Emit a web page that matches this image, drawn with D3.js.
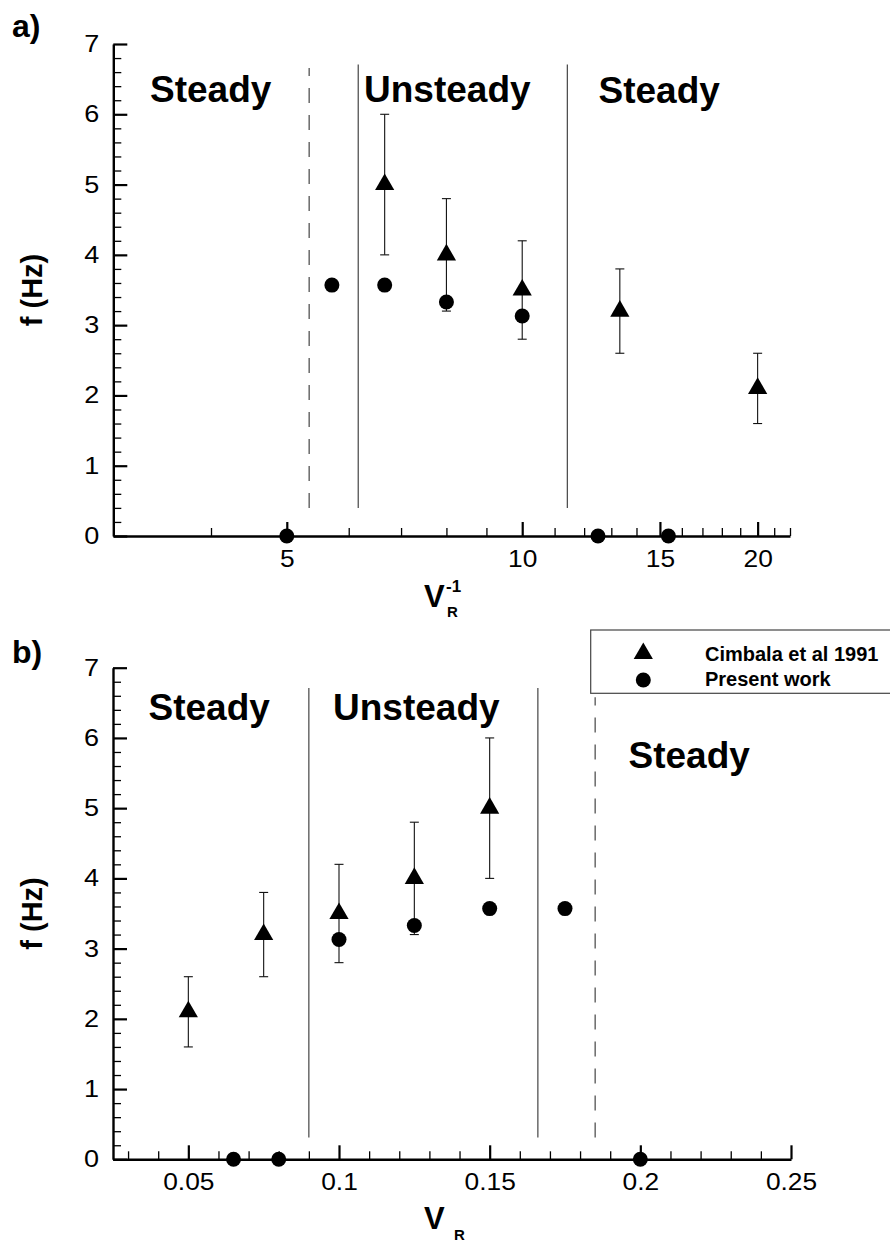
<!DOCTYPE html>
<html><head><meta charset="utf-8">
<script src="https://cdn.jsdelivr.net/npm/d3@7"></script>
<style>
html,body{margin:0;padding:0;background:#fff;}
svg{display:block;}
text{font-family:"Liberation Sans",Arial,Helvetica,sans-serif;fill:#000;}
</style></head>
<body>
<svg id="chart" width="890" height="1243"></svg>
<script>
// ---------- Data ----------
// Panel a : x = V_R^-1
const cimbalaInvVR = [20, 13.33, 10, 8, 6.67];
const presentInvVR = [15.38, 12.5, 10, 8, 6.67, 5.71, 5];
// Panel b : x = V_R
const cimbalaVR = [0.05, 0.075, 0.1, 0.125, 0.15];
const presentVR = [0.065, 0.08, 0.1, 0.125, 0.15, 0.175, 0.2];
// Frequencies (Hz)
const cimbalaF = [2.1, 3.2, 3.5, 4.0, 5.0];
const cimbalaErr = [0.5, 0.6, 0.7, 0.8, 1.0];
const presentF = [0, 0, 3.13, 3.33, 3.57, 3.57, 0];
// Regime boundaries
const boundsA = [5.34, 6.17, 11.42];
const boundsADashed = [true, false, false];
const boundsB = [0.09, 0.166, 0.185];
const boundsBDashed = [false, false, true];
// Ticks
const yMajorTicks = [0, 1, 2, 3, 4, 5, 6, 7];
const xMajorTicksA = [5, 10, 15, 20];
const xMinorTicksA = [4, 6, 7, 8, 9, 11, 12, 13, 14, 16, 17, 18, 19, 21, 22];
const xMajorTicksB = [0.05, 0.1, 0.15, 0.2, 0.25];
const xMinorTicksB = [0.03,0.04,0.06,0.07,0.08,0.09,0.11,0.12,0.13,0.14,0.16,0.17,0.18,0.19,0.21,0.22,0.23,0.24];
const xTickLabelsB = ["0.05", "0.1", "0.15", "0.2", "0.25"];
const legendLabels = ["Cimbala et al 1991", "Present work"];

const svg = d3.select("#chart");
svg.append("rect").attr("width", 890).attr("height", 1243).attr("fill", "#fff");

const triSym = d3.symbol().type(d3.symbolTriangle).size(160);
const cirSym = d3.symbol().type(d3.symbolCircle).size(177);

function widen(sel, f) {
  sel.each(function () {
    const w = this.getComputedTextLength();
    d3.select(this).attr("textLength", w * f).attr("lengthAdjust", "spacingAndGlyphs");
  });
}

function panel(cfg) {
  const g = svg.append("g");
  const x = cfg.x, y = cfg.y;
  const yMinor = d3.range(0, 7.0001, 0.2).map(v => +v.toFixed(1)).filter(v => Math.abs(v - Math.round(v)) > 1e-6);

  // regime lines
  cfg.bounds.forEach((b, i) => {
    const dashed = cfg.dashed[i];
    g.append("line")
      .attr("x1", x(b)).attr("x2", x(b))
      .attr("y1", y(cfg.lineLow)).attr("y2", y(dashed ? cfg.dashTop : 6.71))
      .attr("stroke", "#333").attr("stroke-width", 1.1)
      .attr("stroke-dasharray", dashed ? "15,12" : null);
  });

  // y axis
  const ax0 = x.range()[0];
  const yMaj = d3.axisLeft(y).tickValues(yMajorTicks).tickSize(-14).tickSizeOuter(0).tickPadding(14).tickFormat(d3.format("d"));
  const ya = g.append("g").attr("transform", `translate(${ax0},0)`).call(yMaj);
  ya.select(".domain").attr("stroke", "#000").attr("stroke-width", 2.4);
  ya.selectAll(".tick line").attr("stroke", "#000").attr("stroke-width", 2.2);
  ya.selectAll(".tick text").attr("font-size", 23.5).attr("fill", "#000")
    .style("font-family", '"Liberation Sans",Arial,sans-serif');
  widen(ya.selectAll(".tick text"), 1.15);
  const yMin = d3.axisLeft(y).tickValues(yMinor).tickSize(-8).tickSizeOuter(0).tickFormat("");
  const ym = g.append("g").attr("transform", `translate(${ax0},0)`).call(yMin);
  ym.select(".domain").remove();
  ym.selectAll(".tick line").attr("stroke", "#000").attr("stroke-width", 1.3);

  // x axis
  const ay0 = y.range()[0];
  const xMaj = d3.axisBottom(x).tickValues(cfg.xMajor).tickSize(-14).tickSizeOuter(0).tickPadding(14)
    .tickFormat((d, i) => cfg.xLabels[i]);
  const xa = g.append("g").attr("transform", `translate(0,${ay0})`).call(xMaj);
  xa.select(".domain").attr("stroke", "#000").attr("stroke-width", 2.6);
  xa.selectAll(".tick line").attr("stroke", "#000").attr("stroke-width", 2.2);
  xa.selectAll(".tick text").attr("font-size", 23.5).attr("fill", "#000")
    .style("font-family", '"Liberation Sans",Arial,sans-serif');
  widen(xa.selectAll(".tick text"), 1.12);
  const xMin = d3.axisBottom(x).tickValues(cfg.xMinor).tickSize(-8).tickSizeOuter(0).tickFormat("");
  const xm = g.append("g").attr("transform", `translate(0,${ay0})`).call(xMin);
  xm.select(".domain").remove();
  xm.selectAll(".tick line").attr("stroke", "#000").attr("stroke-width", 1.3);

  // error bars
  const eb = g.append("g").attr("stroke", "#111").attr("stroke-width", 1.1);
  cfg.cx.forEach((xv, i) => {
    const px = x(xv), lo = y(cimbalaF[i] - cimbalaErr[i]), hi = y(cimbalaF[i] + cimbalaErr[i]);
    eb.append("line").attr("x1", px).attr("x2", px).attr("y1", lo).attr("y2", hi);
    eb.append("line").attr("x1", px - 4.5).attr("x2", px + 4.5).attr("y1", lo).attr("y2", lo);
    eb.append("line").attr("x1", px - 4.5).attr("x2", px + 4.5).attr("y1", hi).attr("y2", hi);
  });

  // symbols
  g.selectAll(".tri").data(cfg.cx).join("path")
    .attr("d", triSym).attr("fill", "#000")
    .attr("transform", (d, i) => `translate(${x(d)},${y(cimbalaF[i])})`);
  g.selectAll(".cir").data(cfg.px).join("path")
    .attr("d", cirSym).attr("fill", "#000")
    .attr("transform", (d, i) => `translate(${x(d)},${y(presentF[i])})`);

  // region labels
  cfg.regions.forEach(r => {
    g.append("text").attr("x", r[0]).attr("y", r[1]).text(r[2])
      .attr("font-size", 37).attr("font-weight", "bold");
  });

  // panel letter
  g.append("text").attr("x", 12).attr("y", cfg.letterY).text(cfg.letter)
    .attr("font-size", 32).attr("font-weight", "bold");

  // y label
  const yc = (y.range()[0] + y.range()[1]) / 2;
  g.append("text").attr("transform", `translate(42,${yc}) rotate(-90)`)
    .attr("text-anchor", "middle").attr("font-size", 29).attr("font-weight", "bold")
    .text("f (Hz)");
  return g;
}

// ---------- Panel a ----------
const xA = d3.scaleLog().domain([3, 22]).range([113.3, 790]);
const yA = d3.scaleLinear().domain([0, 7]).range([536, 44]);
const gA = panel({
  x: xA, y: yA, xMajor: xMajorTicksA, xMinor: xMinorTicksA, xLabels: xMajorTicksA.map(String),
  bounds: boundsA, dashed: boundsADashed, lineLow: 0.4, dashTop: 6.66,
  cx: cimbalaInvVR, px: presentInvVR,
  regions: [[150, 101.5, "Steady"], [364, 101.5, "Unsteady"], [598.5, 102.5, "Steady"]],
  letter: "a)", letterY: 36.5
});
// x label a
gA.append("text").attr("x", 424).attr("y", 607).attr("font-weight", "bold").attr("font-size", 31).text("V");
gA.append("text").attr("x", 446).attr("y", 591.5).attr("font-weight", "bold").attr("font-size", 17).text("-1");
gA.append("text").attr("x", 447).attr("y", 616.5).attr("font-weight", "bold").attr("font-size", 15).text("R");

// ---------- Panel b ----------
const xB = d3.scaleLinear().domain([0.025, 0.25]).range([113, 791]);
const yB = d3.scaleLinear().domain([0, 7]).range([1159.3, 667.7]);
const gB = panel({
  x: xB, y: yB, xMajor: xMajorTicksB, xMinor: xMinorTicksB, xLabels: xTickLabelsB,
  bounds: boundsB, dashed: boundsBDashed, lineLow: 0.31, dashTop: 6.58,
  cx: cimbalaVR, px: presentVR,
  regions: [[148.5, 720, "Steady"], [333, 720, "Unsteady"], [628.5, 767.5, "Steady"]],
  letter: "b)", letterY: 662.5
});
gB.append("text").attr("x", 424).attr("y", 1229).attr("font-weight", "bold").attr("font-size", 31).text("V");
gB.append("text").attr("x", 454).attr("y", 1240).attr("font-weight", "bold").attr("font-size", 15).text("R");

// legend
const lg = svg.append("g");
lg.append("rect").attr("x", 590.7).attr("y", 630).attr("width", 320).attr("height", 63.3)
  .attr("fill", "#fff").attr("stroke", "#444").attr("stroke-width", 1.2);
lg.append("path").attr("d", triSym).attr("transform", "translate(643.3,653.5)");
lg.append("path").attr("d", cirSym).attr("transform", "translate(643.3,680)");
legendLabels.forEach((t, i) => {
  lg.append("text").attr("x", 705).attr("y", 661 + i * 24.7).attr("font-size", 20)
    .attr("font-weight", "bold").text(t);
});
</script>
</body></html>
